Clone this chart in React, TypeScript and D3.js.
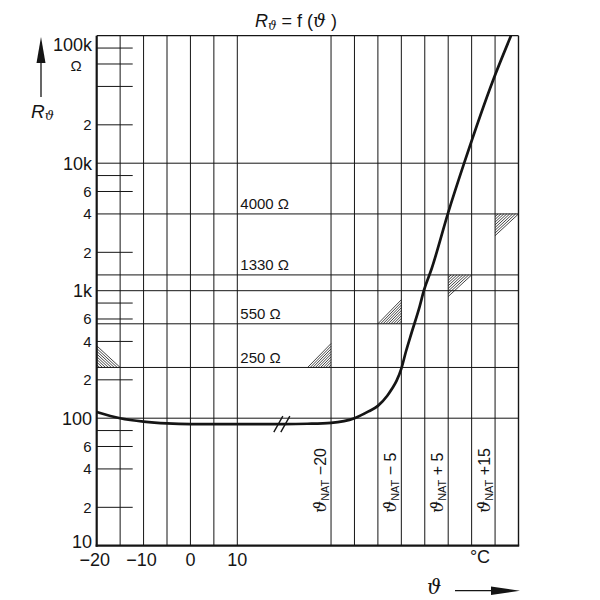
import React from "react";
import * as d3 from "d3";

// Curve R = f(theta); theta in "virtual" units: -20..10 real °C, 30..70 = ϑNAT-20..ϑNAT+20
const curveT = [-20, -15, -10, -5, 0, 10, 20, 25, 30, 35, 38, 40, 42, 43, 44, 45, 46, 47.2, 48.9, 49.8, 51.5, 55, 58.4, 64.6, 68.4];
const curveR = [112, 100, 94, 91, 90, 90, 90, 90.5, 92, 100, 113, 125, 150, 170, 197, 245, 335, 470, 750, 1000, 1500, 4100, 10000, 45000, 100000];

// vertical grid positions
const gridT = [-15, -10, -5, 0, 5, 10, 30, 35, 40, 45, 50, 55, 60, 65];
const xTickValues = [-20, -10, 0, 10];
const xTickLabels = ["\u221220", "\u221210", "0", "10"];

// NAT labels (rotated)
const natT = [30, 45, 55, 65];
const natLabels = [" \u221220", " \u2212 5", " + 5", " +15"];

// horizontal full lines
const hLines = [100, 250, 550, 1000, 1330, 4000, 10000];
const hLineLabelValues = [4000, 1330, 550, 250];
const hLineLabels = ["4000 \u03a9", "1330 \u03a9", "550 \u03a9", "250 \u03a9"];

// y axis ticks
const yMajorValues = [10, 100, 1000, 10000, 100000];
const yMajorLabels = ["10", "100", "1k", "10k", "100k"];
const yMinorTicks = [20, 40, 60, 80, 200, 400, 600, 800, 2000, 6000, 8000, 20000, 40000, 60000, 80000];
const yMinorLabelValues = [20, 40, 60, 200, 400, 600, 2000, 4000, 6000, 20000, 60000];
const yMinorLabels = ["2", "4", "6", "2", "4", "6", "2", "4", "6", "2", "\u03a9"];

// hatched tolerance triangles: corner, p1, p2 (theta, R)
const triCorner: [number, number][] = [[-20, 250], [30, 250], [45, 550], [55, 1330], [65, 4000]];
const triP1: [number, number][] = [[-20, 370], [25, 250], [40, 550], [60, 1330], [70, 4000]];
const triP2: [number, number][] = [[-15, 250], [30, 385], [45, 850], [55, 900], [65, 2700]];

const FONT = "'Liberation Sans', Arial, sans-serif";
const GREEK = "'DejaVu Serif', serif";
const INK = "#151515";

export default function App() {
  const x = d3.scaleLinear().domain([-20, 70]).range([96.7, 518.5]);
  const y = d3.scaleLog().domain([10, 100000]).range([545.7, 35.7]);
  const x0 = x(-20), x1 = x(70), yTop = y(100000), yBot = y(10);

  const line = d3
    .line<number>()
    .x((_, i) => x(curveT[i]))
    .y((d) => y(d))
    .curve(d3.curveMonotoneX);
  const curvePath = line(curveR) || "";

  const hatches = triCorner.map((c, k) => {
    const C = [x(c[0]), y(c[1])];
    const P = [x(triP1[k][0]), y(triP1[k][1])];
    const Q = [x(triP2[k][0]), y(triP2[k][1])];
    const dx = Q[0] - P[0], dy = Q[1] - P[1];
    const len = Math.hypot(dx, dy);
    const dist = Math.abs((C[0] - P[0]) * dy - (C[1] - P[1]) * dx) / len;
    const n = Math.max(3, Math.round(dist / 1.9));
    const segs: string[] = [];
    for (let i = 1; i <= n; i++) {
      const t = i / n;
      segs.push(
        `M${C[0] + t * (P[0] - C[0])},${C[1] + t * (P[1] - C[1])}L${C[0] + t * (Q[0] - C[0])},${C[1] + t * (Q[1] - C[1])}`
      );
    }
    return segs.join("");
  });

  const breakX = x(19.5);
  const breakY = y(90);

  return (
    <svg
      width={600}
      height={600}
      style={{ position: "absolute", left: 0, top: 0, background: "#fff" }}
      fontFamily={FONT}
    >
      <rect x={0} y={0} width={600} height={600} fill="#fff" />
      {/* title */}
      <text x={296} y={27} textAnchor="middle" fontSize={18} fill={INK}>
        <tspan fontStyle="italic">R</tspan>
        <tspan fontFamily={GREEK} fontStyle="italic" fontSize={12} dy={3}>{"\u03d1"}</tspan>
        <tspan dy={-3}>{" = f ("}</tspan>
        <tspan fontFamily={GREEK} fontStyle="italic">{"\u03d1"}</tspan>
        <tspan>{" )"}</tspan>
      </text>

      {/* vertical grid */}
      {gridT.map((t) => (
        <line key={"v" + t} x1={x(t)} x2={x(t)} y1={yTop} y2={yBot} stroke={INK} strokeWidth={1} />
      ))}
      {/* horizontal grid */}
      {hLines.map((r) => (
        <line key={"h" + r} x1={x0} x2={x1} y1={y(r)} y2={y(r)} stroke={INK} strokeWidth={1} />
      ))}
      {/* minor ticks */}
      {yMinorTicks.map((r) => (
        <line key={"m" + r} x1={x0} x2={x0 + 36} y1={y(r)} y2={y(r)} stroke={INK} strokeWidth={1} />
      ))}
      {/* frame */}
      <line x1={x0} x2={x1} y1={yTop} y2={yTop} stroke={INK} strokeWidth={1.3} />
      <line x1={x1} x2={x1} y1={yTop} y2={yBot} stroke={INK} strokeWidth={1.4} />
      <line x1={x0} x2={x0} y1={yTop} y2={yBot + 1} stroke={INK} strokeWidth={2.2} />
      <line x1={x0 - 1} x2={x1 + 0.7} y1={yBot} y2={yBot} stroke={INK} strokeWidth={2.2} />

      {/* hatched triangles */}
      {hatches.map((d, i) => (
        <path key={"t" + i} d={d} stroke={INK} strokeWidth={0.8} fill="none" />
      ))}

      {/* curve */}
      <path d={curvePath} fill="none" stroke={INK} strokeWidth={2.7} strokeLinejoin="round" />
      {/* break marks */}
      {[-3.5, 3.5].map((o) => (
        <line key={"b" + o} x1={breakX + o - 4.5} y1={breakY + 8} x2={breakX + o + 4.5} y2={breakY - 8} stroke={INK} strokeWidth={1.4} />
      ))}

      {/* line labels */}
      {hLineLabelValues.map((r, i) => (
        <text key={"hl" + r} x={x(10) + 3} y={y(r) - 4.5} fontSize={15} fill={INK}>
          {hLineLabels[i]}
        </text>
      ))}

      {/* y labels */}
      {yMajorValues.map((r, i) => (
        <text
          key={"ym" + r}
          x={92}
          y={y(r) + (i === 4 ? 9 : i === 0 ? -4 : 0)}
          dy="0.36em"
          textAnchor="end"
          fontSize={18}
          fill={INK}
        >
          {yMajorLabels[i]}
        </text>
      ))}
      {yMinorLabelValues.map((r, i) => (
        <text
          key={"yl" + r}
          x={yMinorLabels[i] === "\u03a9" ? 76 : 91.5}
          y={y(r) + (yMinorLabels[i] === "\u03a9" ? 2 : 0)}
          dy="0.36em"
          textAnchor={yMinorLabels[i] === "\u03a9" ? "middle" : "end"}
          fontSize={15}
          fill={INK}
        >
          {yMinorLabels[i]}
        </text>
      ))}

      {/* x labels */}
      {xTickValues.map((t, i) => (
        <text key={"xl" + t} x={x(t) + (t < 0 ? -2 : 0)} y={566} textAnchor="middle" fontSize={18} fill={INK}>
          {xTickLabels[i]}
        </text>
      ))}
      <text x={480} y={563} textAnchor="middle" fontSize={18} fill={INK}>
        °C
      </text>

      {/* NAT rotated labels */}
      {natT.map((t, i) => (
        <text
          key={"n" + t}
          transform={`translate(${x(t) - 5},513) rotate(-90)`}
          fontSize={16}
          fill={INK}
        >
          <tspan fontFamily={GREEK} fontStyle="italic" fontSize={17}>{"\u03d1"}</tspan>
          <tspan fontSize={11} dy={3}>NAT</tspan>
          <tspan dy={-3}>{natLabels[i]}</tspan>
        </text>
      ))}

      {/* y axis title & arrow */}
      <line x1={41} x2={41} y1={97} y2={58} stroke={INK} strokeWidth={1.3} />
      <path d="M41,37 L36.5,63 L45.5,63 Z" fill={INK} />
      <text x={31} y={118} fontSize={19} fill={INK}>
        <tspan fontStyle="italic">R</tspan>
        <tspan fontFamily={GREEK} fontStyle="italic" fontSize={13} dy={2}>{"\u03d1"}</tspan>
      </text>

      {/* x axis title & arrow */}
      <text x={427} y={594} fontSize={20} fill={INK} fontFamily={GREEK} fontStyle="italic">
        {"\u03d1"}
      </text>
      <line x1={455} x2={495} y1={590.7} y2={590.7} stroke={INK} strokeWidth={1.3} />
      <path d="M520,590.7 L491,586.5 L491,594.9 Z" fill={INK} />
    </svg>
  );
}
